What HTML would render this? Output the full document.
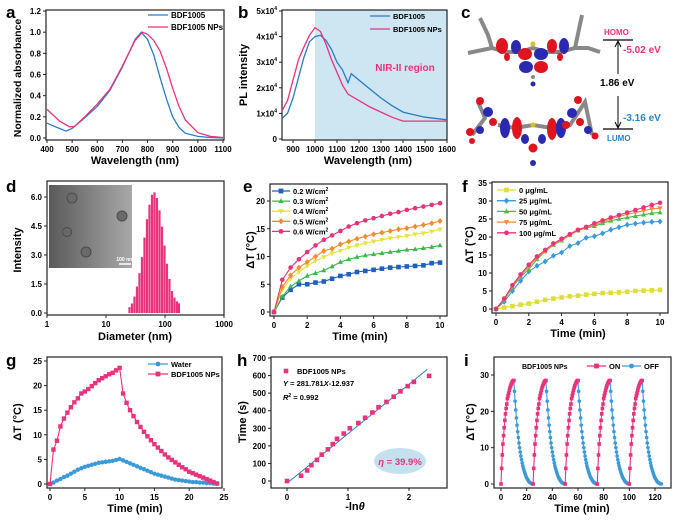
<!DOCTYPE html>
<html><head><meta charset="utf-8"><style>
html,body{margin:0;padding:0;background:#fff}
svg{display:block;font-family:"Liberation Sans",Arial,sans-serif;font-weight:bold}
</style></head><body>
<svg id="fig" width="682" height="522" viewBox="0 0 682 522" xmlns="http://www.w3.org/2000/svg">
<g font-size="17" fill="#000">
<text x="6" y="18">a</text><text x="238" y="18">b</text><text x="461" y="18">c</text>
<text x="6" y="192">d</text><text x="243" y="192">e</text><text x="462" y="192">f</text>
<text x="6" y="366">g</text><text x="237" y="366">h</text><text x="464" y="366">i</text>
</g>
<g>
<g>
<path d="M480,18 L488,35 L492,48 L468,53 M492,48 L505,52 L520,52 L533,48 L546,52 L560,52 L575,48 L588,48 L600,52 M575,48 L582,15" stroke="#888" stroke-width="4" fill="none"/>
<ellipse cx="502" cy="46" rx="6" ry="8" fill="#e0141e"/><ellipse cx="516" cy="47" rx="5" ry="7" fill="#2a2ab0"/>
<ellipse cx="552" cy="46" rx="5" ry="7" fill="#e0141e"/><ellipse cx="564" cy="46" rx="5" ry="8" fill="#2a2ab0"/>
<ellipse cx="525" cy="54" rx="7" ry="6" fill="#e0141e"/><ellipse cx="541" cy="54" rx="7" ry="6" fill="#2a2ab0"/>
<ellipse cx="526" cy="67" rx="7" ry="6" fill="#2a2ab0"/><ellipse cx="541" cy="67" rx="7" ry="6" fill="#e0141e"/>
<ellipse cx="507" cy="57" rx="3" ry="4" fill="#e0141e"/><ellipse cx="560" cy="57" rx="3" ry="4" fill="#e0141e"/>
<circle cx="533" cy="77" r="2" fill="#888"/><circle cx="533" cy="84" r="2.5" fill="#2a2ab0"/>
<circle cx="533" cy="44" r="2.5" fill="#d8c020"/>
</g>
<g>
<path d="M478,102 L485,118 L472,135 M498,125 L515,128 L533,125 L552,128 L570,125 L585,102 L592,135" stroke="#888" stroke-width="4" fill="none"/>
<ellipse cx="505" cy="128" rx="5" ry="10" fill="#2a2ab0"/><ellipse cx="517" cy="128" rx="5" ry="11" fill="#e0141e"/>
<ellipse cx="525" cy="139" rx="4" ry="5" fill="#2a2ab0"/><ellipse cx="542" cy="139" rx="4" ry="5" fill="#2a2ab0"/>
<ellipse cx="552" cy="129" rx="5" ry="11" fill="#e0141e"/><ellipse cx="561" cy="128" rx="5" ry="10" fill="#2a2ab0"/>
<circle cx="533" cy="148" r="4.5" fill="#e0141e"/><circle cx="533" cy="163" r="3" fill="#2a2ab0"/>
<circle cx="480" cy="101" r="4" fill="#e0141e"/><circle cx="488" cy="112" r="5" fill="#2a2ab0"/><circle cx="493" cy="122" r="4" fill="#e0141e"/>
<circle cx="470" cy="132" r="4" fill="#e0141e"/><circle cx="480" cy="130" r="4" fill="#2a2ab0"/><circle cx="472" cy="141" r="3" fill="#e0141e"/>
<circle cx="578" cy="100" r="4" fill="#e0141e"/><circle cx="572" cy="113" r="5" fill="#2a2ab0"/><circle cx="580" cy="122" r="4" fill="#e0141e"/>
<circle cx="588" cy="130" r="4" fill="#2a2ab0"/><circle cx="595" cy="136" r="3.5" fill="#e0141e"/><circle cx="566" cy="125" r="4" fill="#e0141e"/>
<circle cx="533" cy="125" r="2.5" fill="#d8c020"/>
</g>
<g>
<line x1="603" y1="40" x2="633" y2="40" stroke="#000" stroke-width="1.2"/>
<line x1="603" y1="129" x2="633" y2="129" stroke="#000" stroke-width="1.2"/>
<line x1="618" y1="42" x2="618" y2="74" stroke="#000"/><path d="M615,47 L618,41 L621,47" fill="none" stroke="#000"/>
<line x1="618" y1="96" x2="618" y2="127" stroke="#000"/><path d="M615,122 L618,128 L621,122" fill="none" stroke="#000"/>
<text x="604" y="35" font-size="8" fill="#e8337c">HOMO</text>
<text x="623" y="53" font-size="10" fill="#e8337c">-5.02 eV</text>
<text x="600" y="86" font-size="10" fill="#000">1.86 eV</text>
<text x="623" y="121" font-size="10" fill="#2a86c8">-3.16 eV</text>
<text x="607" y="141" font-size="8" fill="#2a86c8">LUMO</text>
</g>
</g>
<defs><linearGradient id="tem" x1="0" x2="1" y1="0" y2="0"><stop offset="0" stop-color="#5a5a5a"/><stop offset="1" stop-color="#a8a8a8"/></linearGradient></defs>
</svg>
<script>
const NS='http://www.w3.org/2000/svg';
const svg=document.getElementById('fig');
function mk(tag,attrs,parent){const e=document.createElementNS(NS,tag);for(const k in attrs)e.setAttribute(k,attrs[k]);(parent||svg).appendChild(e);return e;}
function lin(d0,d1,p0,p1){return v=>p0+(v-d0)*(p1-p0)/(d1-d0);}
function logs(d0,d1,p0,p1){return v=>p0+(Math.log10(v)-Math.log10(d0))*(p1-p0)/(Math.log10(d1)-Math.log10(d0));}
function frame(name,fr){const g=mk('g',{});
 const r=mk('rect',{x:fr.l,y:fr.t,width:fr.r-fr.l,height:fr.b-fr.t,fill:'none',stroke:'#222','stroke-width':1.2},g);
 return g;}
function xticks(g,fr,sx,vals,labels,fs){vals.forEach((v,i)=>{const x=sx(v);mk('line',{x1:x,x2:x,y1:fr.b,y2:fr.b+3,stroke:'#222'},g);
 const t=mk('text',{x:x,y:fr.b+12,'font-size':fs||8.5,'text-anchor':'middle'},g);t.textContent=labels[i];
 });}
function yticks(g,fr,sy,vals,labels,fs){vals.forEach((v,i)=>{const y=sy(v);mk('line',{x1:fr.l-3,x2:fr.l,y1:y,y2:y,stroke:'#222'},g);
 const t=mk('text',{x:fr.l-5,y:y+3,'font-size':fs||8.5,'text-anchor':'end'},g);t.innerHTML=labels[i];
 });}
function title(g,txt,x,y,rot,name,fs){const t=mk('text',{x:x,y:y,'font-size':fs||11,'text-anchor':'middle',transform:rot?`rotate(-90 ${x} ${y})`:''},g);t.innerHTML=txt;
 return t;}
function path(g,xs,ys,sx,sy,col,w){const d=xs.map((x,i)=>(i?'L':'M')+sx(x).toFixed(1)+','+sy(ys[i]).toFixed(1)).join('');
 return mk('path',{d:d,fill:'none',stroke:col,'stroke-width':w||1.3},g);}
function marker(g,type,x,y,col,s){s=s||2.6;let e;
 if(type==='sq')e=mk('rect',{x:x-s,y:y-s,width:2*s,height:2*s,fill:col},g);
 else if(type==='ci')e=mk('circle',{cx:x,cy:y,r:s,fill:col},g);
 else if(type==='tu')e=mk('path',{d:`M${x},${y-s*1.2}L${x+s*1.1},${y+s*0.8}L${x-s*1.1},${y+s*0.8}Z`,fill:col},g);
 else if(type==='td')e=mk('path',{d:`M${x},${y+s*1.2}L${x+s*1.1},${y-s*0.8}L${x-s*1.1},${y-s*0.8}Z`,fill:col},g);
 else e=mk('path',{d:`M${x},${y-s*1.3}L${x+s*1.1},${y}L${x},${y+s*1.3}L${x-s*1.1},${y}Z`,fill:col},g);
 return e;}
function legendLine(g,x1,x2,y,col,txt,type,fs){const l=mk('line',{x1:x1,x2:x2,y1:y,y2:y,stroke:col,'stroke-width':1.3},g);
 if(type){marker(g,type,(x1+x2)/2,y,col,2.4);}
 const t=mk('text',{x:x2+3,y:y+3,'font-size':fs||8},g);t.innerHTML=txt;
 }

/* ===== Panel a data ===== */
const aBlueX=[400,450,475,500,550,600,650,700,725,750,775,800,825,850,875,900,925,950,1000,1050,1100];
const aBlueY=[0.14,0.09,0.065,0.09,0.19,0.30,0.45,0.67,0.80,0.93,1.0,0.93,0.78,0.57,0.37,0.20,0.10,0.045,0.015,0.005,0.0];
const aPinkX=[400,450,490,510,550,600,650,700,750,780,800,825,850,875,900,925,950,1000,1050,1100];
const aPinkY=[0.27,0.16,0.105,0.11,0.20,0.32,0.46,0.68,0.92,1.0,0.98,0.92,0.82,0.66,0.47,0.30,0.17,0.05,0.015,0.005];
const aXTicks=[400,500,600,700,800,900,1000,1100];
const aYTicks=[0,0.2,0.4,0.6,0.8,1.0,1.2];
/* ===== Panel b data ===== */
const bBlueX=[850,875,900,925,950,975,1000,1025,1050,1075,1100,1125,1140,1150,1165,1200,1250,1300,1350,1400,1450,1500,1600];
const bBlueY=[0.8,1.0,1.6,2.4,3.2,3.8,4.0,4.05,3.85,3.5,3.0,2.7,2.4,2.2,2.55,2.3,1.95,1.6,1.3,1.05,0.95,0.85,0.75];
const bPinkX=[850,875,900,925,950,975,1000,1025,1050,1075,1100,1125,1150,1200,1250,1300,1350,1400,1600];
const bPinkY=[1.1,1.5,2.3,3.1,3.6,4.05,4.35,4.2,3.7,3.1,2.6,2.1,1.75,1.5,1.25,1.05,0.85,0.7,0.7];
const bXTicks=[900,1000,1100,1200,1300,1400,1500,1600];
const bYTicks=[0,1,2,3,4,5];
const bYLabels=['0','1x10<tspan font-size="5" dy="-4">4</tspan>','2x10<tspan font-size="5" dy="-4">4</tspan>','3x10<tspan font-size="5" dy="-4">4</tspan>','4x10<tspan font-size="5" dy="-4">4</tspan>','5x10<tspan font-size="5" dy="-4">4</tspan>'];
/* ===== Panel d data ===== */
const dDiam=[25,27.6,30.4,33.5,36.9,40.7,44.9,49.5,54.6,60.2,66.3,73.1,80.6,88.9,98,108,119.1,131.3,144.8,159.6,172];
const dInt=[0.3,0.49,0.85,1.37,2.06,2.89,3.90,4.85,5.60,6.12,6.24,5.95,5.31,4.47,3.49,2.55,1.76,1.13,0.8,0.6,0.5];
const dXTicks=[1,10,100,1000];
const dYTicks=[0,1.5,3.0,4.5,6.0];
/* ===== Panel e data ===== */
const eTime=[0,0.5,1,1.5,2,2.5,3,3.5,4,4.5,5,5.5,6,6.5,7,7.5,8,8.5,9,9.5,10];
const eP02=[0,2.6,4.0,5.0,5.0,5.3,5.5,6.0,6.5,6.8,7.2,7.4,7.6,7.8,8.0,8.1,8.2,8.3,8.4,8.8,8.9];
const eP03=[0,2.8,4.6,5.6,6.5,7.0,7.5,8.2,9.0,9.5,9.9,10.2,10.4,10.6,10.8,11.0,11.2,11.3,11.5,11.7,12.0];
const eP04=[0,4.0,6.0,7.2,8.3,9.2,9.9,10.6,11.0,11.6,12.0,12.4,12.7,13.0,13.3,13.5,13.7,14.0,14.2,14.5,14.9];
const eP05=[0,4.5,6.6,8.0,9.0,10.0,11.0,11.4,12.2,12.7,13.2,13.6,14.0,14.3,14.6,14.9,15.1,15.4,15.7,16.0,16.4];
const eP06=[0,5.8,8.0,9.5,10.8,12.0,13.0,13.8,14.6,15.4,16.0,16.5,16.9,17.3,17.7,18.0,18.4,18.7,19.0,19.3,19.6];
const eXTicks=[0,2,4,6,8,10];
const eYTicks=[0,5,10,15,20];
/* ===== Panel f data ===== */
const fTime=[0,0.5,1,1.5,2,2.5,3,3.5,4,4.5,5,5.5,6,6.5,7,7.5,8,8.5,9,9.5,10];
const fC0=[0,0.4,0.8,1.2,1.5,2.0,2.5,2.9,3.2,3.5,3.7,4.0,4.2,4.4,4.5,4.6,4.8,5.0,5.1,5.2,5.3];
const fC25=[0,2,5,7.8,10.4,12,13.2,14.8,15.7,17.5,18.3,19.8,20.2,21,22,22.7,23.4,23.7,24,24.2,24.3];
const fC50=[0,2.5,6,9,11,13.8,16,17.8,19,20.5,21.8,22.5,23,23.8,24.5,25,25.4,25.8,26.2,26.6,26.8];
const fC75=[0,2.7,6.3,9.3,11.8,14.3,16,18,19.2,20.5,21.8,22.6,23.4,24.2,25,25.7,26.3,26.8,27.3,27.8,28];
const fC100=[0,2.9,6.6,9.6,12.3,14.6,16.4,18.2,19.5,20.8,22,22.8,23.8,24.6,25.4,26.1,26.8,27.5,28.2,28.9,29.5];
const fXTicks=[0,2,4,6,8,10];
const fYTicks=[0,5,10,15,20,25,30,35];
/* ===== Panel g data ===== */
const gTime=[0,0.5,1,1.5,2,2.5,3,3.5,4,4.5,5,5.5,6,6.5,7,7.5,8,8.5,9,9.5,10,10.5,11,11.5,12,12.5,13,13.5,14,14.5,15,15.5,16,16.5,17,17.5,18,18.5,19,19.5,20,20.5,21,21.5,22,22.5,23,23.5,24];
const gNPs=[0,7,8.8,11.7,13.3,14.5,15.6,16.6,17.4,18.4,18.8,19.3,19.9,20.5,21.1,21.5,21.9,22.3,22.6,23.1,23.6,18.4,16.5,15,13.8,12.6,11.6,10.6,9.7,8.9,8.1,7.4,6.7,6.0,5.4,4.9,4.4,3.9,3.4,3.0,2.5,2.2,1.9,1.6,1.3,1.0,0.7,0.4,0.1];
const gWater=[0,0.3,0.7,1.0,1.4,1.7,2.1,2.5,2.9,3.2,3.5,3.7,3.9,4.1,4.3,4.4,4.5,4.6,4.7,4.9,5.1,4.8,4.5,4.2,3.9,3.6,3.3,3.0,2.7,2.4,2.1,1.9,1.7,1.5,1.3,1.1,0.9,0.8,0.7,0.6,0.5,0.4,0.4,0.3,0.3,0.2,0.2,0.1,0.1];
const gXTicks=[0,5,10,15,20,25];
const gYTicks=[0,5,10,15,20,25];
/* ===== Panel h data ===== */
const hLnTheta=[0,0.23,0.33,0.40,0.49,0.57,0.67,0.75,0.82,0.93,1.03,1.17,1.28,1.40,1.50,1.63,1.75,1.86,1.98,2.08,2.33];
const hTimeS=[0,30,60,90,120,150,180,210,240,270,300,330,360,390,420,450,480,510,540,564,598];
const hFitSlope=281.781, hFitIntercept=-12.937;
const hFitRange=[0,2.3];
const hXTicks=[0,1,2];
const hYTicks=[0,100,200,300,400,500,600,700];
/* ===== Panel i data ===== */
const iCycleStarts=[0,25,50,75,100];
const iHeatT=[0,0.5,1,1.5,2,2.5,3,3.5,4,4.5,5,5.5,6,6.5,7,7.5,8,8.5,9,9.5,10];
const iHeat=[0,4.3,8,11,13.3,15.5,17.5,19.3,20.8,22,23.5,24.3,25,25.8,26.5,27,27.5,27.9,28.2,28.4,28.5];
const iCoolT=[10,10.5,11,11.5,12,12.5,13,13.5,14,14.5,15,15.5,16,16.5,17,17.5,18,18.5,19,19.5,20,20.5,21,21.5,22,22.5,23,23.5,24,24.5,25];
const iCool=[28.5,25.5,22.8,20.4,18.2,16.2,14.4,12.8,11.3,10,8.8,7.7,6.7,5.8,5,4.3,3.7,3.1,2.6,2.1,1.7,1.4,1.1,0.8,0.6,0.4,0.3,0.2,0.1,0.05,0];
const iXTicks=[0,20,40,60,80,100,120];
const iYTicks=[0,10,20,30];

const BLUE='#2a7bc4',PINK='#e8337c';
const fmt1=v=>v.toFixed(1);

/* Panel a */
(function(){const fr={l:46,t:10,r:224,b:140};const g=frame('panel-a-absorbance',fr);
 const sx=lin(400,1100,47,223),sy=lin(0,1.2,138,11);
 xticks(g,fr,sx,aXTicks,aXTicks.map(String),8);yticks(g,fr,sy,aYTicks,aYTicks.map(fmt1),8);
 const p1=path(g,aBlueX,aBlueY,sx,sy,BLUE);
 const p2=path(g,aPinkX,aPinkY,sx,sy,PINK);
 legendLine(g,148,168,15,BLUE,'BDF1005');legendLine(g,148,168,27,PINK,'BDF1005 NPs');
 title(g,'Wavelength (nm)',135,164,false,'x-axis-title');title(g,'Normalized absorbance',21,78,true,'y-axis-title',10.5);})();
/* Panel b */
(function(){const fr={l:282,t:10,r:447,b:140};const g=frame('panel-b-pl',fr);
 const sx=lin(850,1600,282,447),sy=lin(0,5,139,11);
 const sh=mk('rect',{x:sx(1000),y:fr.t,width:fr.r-sx(1000),height:fr.b-fr.t,fill:'#cde6f1'},g);
 g.appendChild(g.firstChild);
 xticks(g,fr,sx,bXTicks,bXTicks.map(String),8);yticks(g,fr,sy,bYTicks,bYLabels,8);
 const p1=path(g,bBlueX,bBlueY,sx,sy,BLUE);
 const p2=path(g,bPinkX,bPinkY,sx,sy,PINK);
 legendLine(g,370,390,16,BLUE,'BDF1005',null,7.5);legendLine(g,370,390,29,PINK,'BDF1005 NPs',null,7.5);
 const t=mk('text',{x:405,y:71,'font-size':10,fill:PINK,'text-anchor':'middle'},g);t.textContent='NIR-II region';
 title(g,'Wavelength (nm)',368,164,false,'x-axis-title');title(g,'PL intensity',247,75,true,'y-axis-title');})();
/* Panel d */
(function(){const fr={l:47,t:181,r:224,b:315};const g=frame('panel-d-dls',fr);
 const sx=logs(1,1000,47,224),sy=lin(0,6,313,197);
 xticks(g,fr,sx,dXTicks,dXTicks.map(String),8);yticks(g,fr,sy,dYTicks,dYTicks.map(fmt1),8);
 dDiam.forEach((d,i)=>{const x=sx(d);const b=mk('rect',{x:x-1.1,y:sy(dInt[i]),width:2.2,height:sy(0)-sy(dInt[i]),fill:PINK},g);
  });
 const im=mk('rect',{x:49,y:185,width:83,height:83,fill:'url(#tem)'},g);
 [[72,198,5],[122,216,5],[67,232,4.5],[86,252,5]].forEach(c=>{const e=mk('circle',{cx:c[0],cy:c[1],r:c[2],fill:'#6a6a6a',stroke:'#4a4a4a'},g);});
 mk('line',{x1:119,x2:131,y1:264,y2:264,stroke:'#fff','stroke-width':1.5},g);
 const st=mk('text',{x:125,y:261,'font-size':5,fill:'#fff','text-anchor':'middle'},g);st.textContent='100 nm';
 title(g,'Diameter (nm)',135,340,false,'x-axis-title');title(g,'Intensity',21,250,true,'y-axis-title');})();
/* Panel e */
(function(){const fr={l:270,t:184,r:447,b:316};const g=frame('panel-e-power',fr);
 const sx=lin(0,10,274,440),sy=lin(0,20,312,201);
 xticks(g,fr,sx,eXTicks,eXTicks.map(String),8);yticks(g,fr,sy,eYTicks,eYTicks.map(String),8);
 const ser=[[eP02,'#1f5fbf','sq','0.2'],[eP03,'#3cb84a','tu','0.3'],[eP04,'#e3e33a','td','0.4'],[eP05,'#f58a2e','di','0.5'],[eP06,PINK,'ci','0.6']];
 ser.forEach((s,k)=>{const p=path(g,eTime,s[0],sx,sy,s[1],1.1);
  eTime.forEach((t,i)=>{const m=marker(g,s[2],sx(t),sy(s[0][i]),s[1],2.3);});
  legendLine(g,272,290,191+k*10.1,s[1],s[3]+' W/cm<tspan font-size="5" dy="-3">2</tspan>',s[2],7.5);});
 title(g,'Time (min)',360,340,false,'x-axis-title');title(g,'ΔT (°C)',254,250,true,'y-axis-title');})();
/* Panel f */
(function(){const fr={l:492,t:182,r:668,b:313};const g=frame('panel-f-concentration',fr);
 const sx=lin(0,10,496,660),sy=lin(0,35,309,183);
 xticks(g,fr,sx,fXTicks,fXTicks.map(String),8);yticks(g,fr,sy,fYTicks,fYTicks.map(String),8);
 const ser=[[fC0,'#dede3a','sq','0'],[fC25,'#3a9ad9','di','25'],[fC50,'#4cbb4c','tu','50'],[fC75,'#f7883a','td','75'],[fC100,PINK,'ci','100']];
 ser.forEach((s,k)=>{const p=path(g,fTime,s[0],sx,sy,s[1],1.1);
  fTime.forEach((t,i)=>{const m=marker(g,s[2],sx(t),sy(s[0][i]),s[1],2.3);});
  legendLine(g,497,516,190+k*10.7,s[1],s[3]+' μg/mL',s[2],7.5);});
 title(g,'Time (min)',578,337,false,'x-axis-title');title(g,'ΔT (°C)',473,245,true,'y-axis-title');})();
/* Panel g */
(function(){const fr={l:47,t:357,r:222,b:488};const g=frame('panel-g-heating-cooling',fr);
 const sx=lin(0,25,50,224),sy=lin(0,25,484,361);
 xticks(g,fr,sx,gXTicks,gXTicks.map(String),8);yticks(g,fr,sy,gYTicks,gYTicks.map(String),8);
 const p1=path(g,gTime,gWater,sx,sy,'#3a9ad9',1.1);
 gTime.forEach((t,i)=>{const m=marker(g,'ci',sx(t),sy(gWater[i]),'#3a9ad9',2.2);});
 const p2=path(g,gTime,gNPs,sx,sy,PINK,1.1);
 gTime.forEach((t,i)=>{const m=marker(g,'sq',sx(t),sy(gNPs[i]),PINK,2.2);});
 legendLine(g,148,168,364,'#3a9ad9','Water','ci',7.5);legendLine(g,148,168,374,PINK,'BDF1005 NPs','sq',7.5);
 title(g,'Time (min)',135,512,false,'x-axis-title');title(g,'ΔT (°C)',21,422,true,'y-axis-title');})();
/* Panel h */
(function(){const fr={l:271,t:357,r:447,b:488};const g=frame('panel-h-linear-fit',fr);
 const sx=lin(0,1,287,348),sy=lin(0,700,481,358);
 xticks(g,fr,sx,hXTicks,hXTicks.map(String),8);yticks(g,fr,sy,hYTicks,hYTicks.map(String),8);
 const el=mk('ellipse',{cx:400,cy:461,rx:26,ry:13,fill:'#c5e0ee'},g);
 const et=mk('text',{x:400,y:465,'font-size':9.5,fill:PINK,'text-anchor':'middle'},g);et.innerHTML='<tspan font-style="italic">η</tspan> = 39.9%';
 const fl=mk('line',{x1:sx(hFitRange[0]),y1:sy(hFitSlope*hFitRange[0]+hFitIntercept),x2:sx(hFitRange[1]),y2:sy(hFitSlope*hFitRange[1]+hFitIntercept),stroke:BLUE,'stroke-width':1},g);
 
 hLnTheta.forEach((x,i)=>{const m=marker(g,'sq',sx(x),sy(hTimeS[i]),PINK,2.3);});
 marker(g,'sq',286,371,PINK,2.3);
 const lt=mk('text',{x:297,y:374,'font-size':7.5},g);lt.textContent='BDF1005 NPs';
 const eq=mk('text',{x:283,y:386,'font-size':7.5},g);eq.innerHTML='<tspan font-style="italic">Y</tspan> = 281.781<tspan font-style="italic">X</tspan>-12.937';
 const r2=mk('text',{x:283,y:400,'font-size':7.5},g);r2.innerHTML='<tspan font-style="italic">R</tspan><tspan font-size="5" dy="-3">2</tspan><tspan dy="3"> = 0.992</tspan>';
 title(g,'-ln<tspan font-style="italic">θ</tspan>',355,510,false,'x-axis-title');title(g,'Time (s)',246,422,true,'y-axis-title');})();
/* Panel i */
(function(){const fr={l:494,t:357,r:671,b:488};const g=frame('panel-i-cycling',fr);
 const sx=lin(0,120,501,655),sy=lin(0,30,484,375);
 xticks(g,fr,sx,iXTicks,iXTicks.map(String),8);yticks(g,fr,sy,iYTicks,iYTicks.map(String),8);
 iCycleStarts.forEach(c=>{
  const p1=path(g,iCoolT.map(t=>t+c),iCool,sx,sy,'#3a9ad9',1.1);
  iCoolT.forEach((t,i)=>{const m=marker(g,'ci',sx(t+c),sy(iCool[i]),'#3a9ad9',1.8);});
  const p2=path(g,iHeatT.map(t=>t+c),iHeat,sx,sy,PINK,1.1);
  iHeatT.forEach((t,i)=>{const m=marker(g,'sq',sx(t+c),sy(iHeat[i]),PINK,1.8);});});
 const lt=mk('text',{x:522,y:369,'font-size':7},g);lt.textContent='BDF1005 NPs';
 legendLine(g,587,606,366,PINK,'ON','sq',7.5);legendLine(g,622,641,366,'#3a9ad9','OFF','ci',7.5);
 title(g,'Time (min)',582,512,false,'x-axis-title');title(g,'ΔT (°C)',474,422,true,'y-axis-title');})();
</script>
</body></html>
